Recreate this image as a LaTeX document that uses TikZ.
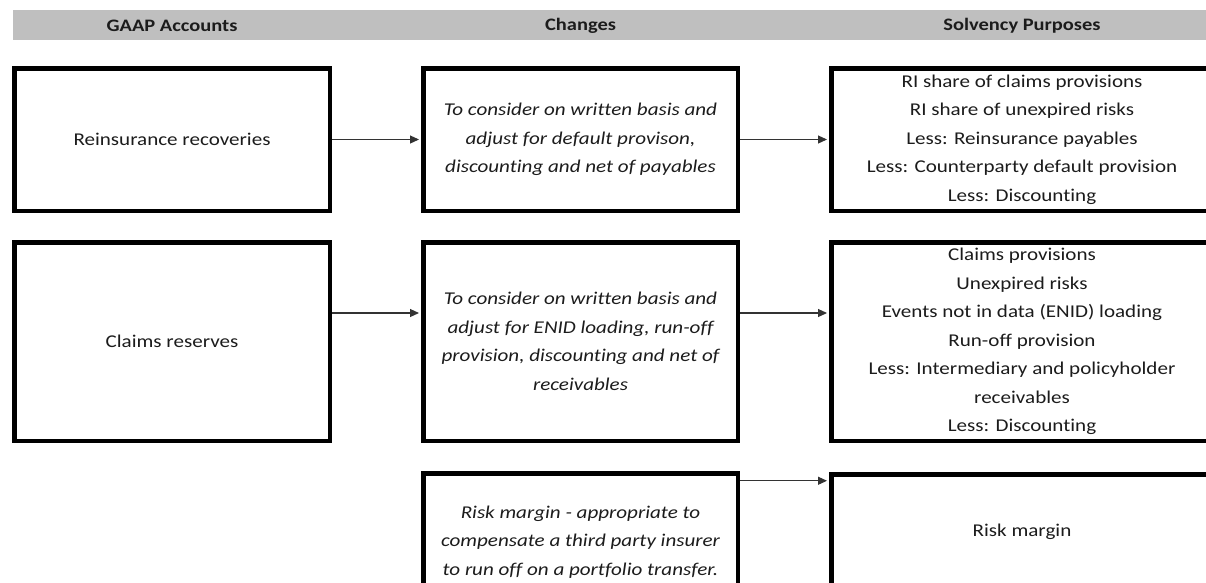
\documentclass[tikz,border=0pt]{standalone}
\usepackage{fontspec}
\newfontfamily\bodyfont[FakeStretch=1.17,Ligatures=NoCommon]{Carlito}
\usetikzlibrary{arrows.meta}
\definecolor{bandgray}{HTML}{BFBFBF}
\definecolor{inkgray}{HTML}{1C1C1C}
\tikzset{
  box/.style={draw=black, line width=4.5pt, fill=white, inner sep=0pt,
    align=center, text=inkgray, font=\bodyfont\fontsize{18}{28.5}\selectfont},
  note/.style={box, font=\bodyfont\itshape\fontsize{18}{28.5}\selectfont},
  head/.style={text=inkgray, font=\bodyfont\bfseries\fontsize{17.5}{20}\selectfont},
  link/.style={draw=black!80, line width=1.1pt, shorten >=2pt,
    -{Triangle[length=9pt,width=8pt]}},
}
\begin{document}
\begin{tikzpicture}[x=1pt,y=-1pt]
\useasboundingbox (0,0) rectangle (1206,582);
\clip (0,0) rectangle (1206,582);

% column header band
\fill[bandgray] (13,10) rectangle (1212,40);
\node[head] (h1) at (172,25.5) {GAAP Accounts};
\node[head] (h2) at (580.5,25.5) {Changes};
\node[head] (h3) at (1022,25.5) {Solvency Purposes};

% row 1
\node[box, minimum width=315.5pt, minimum height=142.5pt] (l1) at (172,139.5) {Reinsurance recoveries};
\node[note, minimum width=314.5pt, minimum height=142.5pt] (m1) at (580.5,139.5)
  {To consider on written basis and\\adjust for default provison,\\discounting and net of payables};
\node[box, minimum width=381.5pt, minimum height=142.5pt] (r1) at (1022,139.5)
  {RI share of claims provisions\\RI share of unexpired risks\\Less: Reinsurance payables\\Less: Counterparty default provision\\Less: Discounting};

% row 2
\node[box, minimum width=315.5pt, minimum height=198.5pt] (l2) at (172,341.5) {Claims reserves};
\node[note, minimum width=314.5pt, minimum height=198.5pt] (m2) at (580.5,341.5)
  {To consider on written basis and\\adjust for ENID loading, run-off\\provision, discounting and net of\\receivables};
\node[box, minimum width=381.5pt, minimum height=198.5pt] (r2) at (1022,341.5)
  {Claims provisions\\Unexpired risks\\Events not in data (ENID) loading\\Run-off provision\\Less: Intermediary and policyholder\\receivables\\Less: Discounting};

% row 3
\node[note, minimum width=314.5pt, minimum height=137.5pt] (m3) at (580.5,542)
  {Risk margin - appropriate to\\compensate a third party insurer\\to run off on a portfolio transfer.};
\node[box, minimum width=381.5pt, minimum height=115.5pt] (r3) at (1022,532) {Risk margin};

% connectors
\draw[link] (l1.east) -- (m1.west);
\draw[link] (m1.east) -- (r1.west);
\draw[link] ([yshift=28.5pt]l2.east) coordinate (a2) -- (a2 -| m2.west);
\draw[link] ([yshift=28.5pt]m2.east) coordinate (b2) -- (b2 -| r2.west);
\draw[link] ([yshift=-9.75pt]m3.north east) coordinate (a3) -- (a3 -| r3.west);
\end{tikzpicture}
\end{document}
